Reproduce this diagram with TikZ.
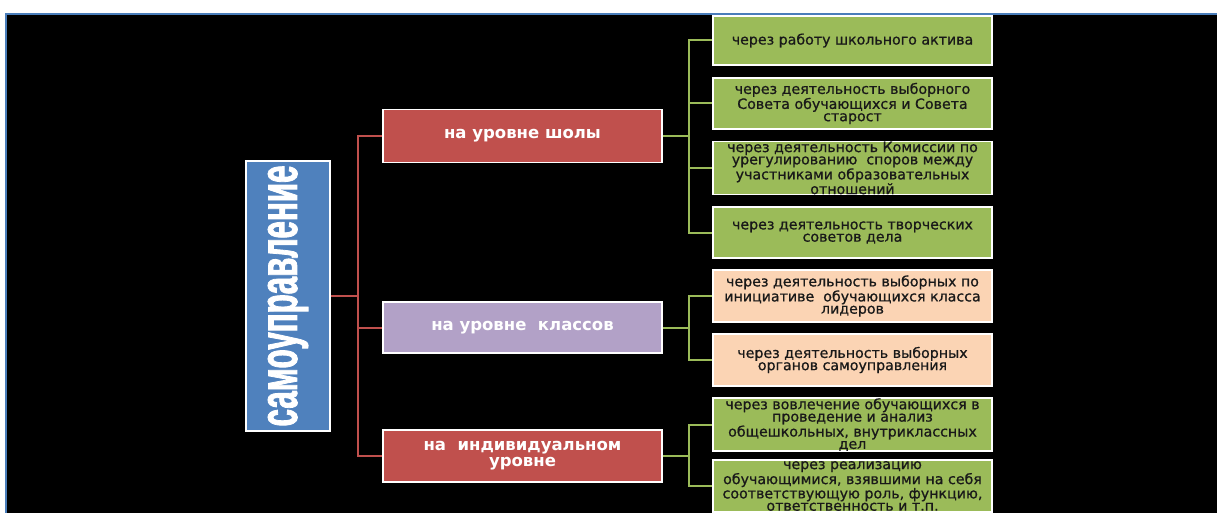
\documentclass[tikz,border=0pt]{standalone}
\usepackage{fontspec}
\setmainfont{DejaVu Sans}
\newfontfamily\vertfont[FakeStretch=0.58, FakeBold=1.5]{Liberation Sans}
\newfontfamily\wayfont[FakeBold=0.8]{DejaVu Sans}
\usetikzlibrary{positioning}

\definecolor{headblue}{HTML}{4F81BD}
\definecolor{lvlred}{HTML}{C0504D}
\definecolor{lvllilac}{HTML}{B2A1C7}
\definecolor{wayolive}{HTML}{9BBB59}
\definecolor{waypeach}{HTML}{FBD4B4}
\definecolor{frameblue}{HTML}{4A7EBB}

\tikzset{
  headbox/.style={draw=white, line width=1.5pt, fill=headblue, text=white,
    rotate=90, minimum width=270pt, minimum height=84pt, inner sep=0pt},
  lvlbox/.style={draw=white, line width=1.5pt, text=white, align=center,
    minimum width=279pt, inner sep=0pt,
    font=\bfseries\fontsize{16.5}{16}\selectfont},
  waybox/.style={draw=white, line width=1.5pt, text=black!90, align=center,
    minimum width=279pt, inner sep=0pt,
    font=\wayfont\fontsize{14.2}{12.3}\selectfont},
  redline/.style={draw=lvlred, line width=2pt},
  oliveline/.style={draw=wayolive, line width=2pt},
}

\begin{document}
\begin{tikzpicture}[x=1pt, y=-1pt]

	\useasboundingbox (0,0) rectangle (1217,513);
	\fill[white] (0,0) rectangle (1217,513);
	\fill[black] (6,14) rectangle (1217,513);
	\draw[frameblue, line width=1.5pt] (6,513) -- (6,14) -- (1217,14);

	\node[headbox] (self) at (288,296) {\vertfont\bfseries\fontsize{54}{54}\selectfont самоуправление};

	\node[lvlbox, fill=lvlred, minimum height=53pt] (school) at (522.5,136) {на уровне шолы};
	\node[lvlbox, fill=lvllilac, minimum height=51pt] (class) at (522.5,327.5) {на уровне~ классов};
	\node[lvlbox, fill=lvlred, minimum height=52pt] (indiv) at (522.5,456) {на~ индивидуальном\\уровне};

	\node[waybox, fill=wayolive, minimum height=49pt] (w1) at (852.5,40.5) {через работу школьного актива};
	\node[waybox, fill=wayolive, minimum height=51pt] (w2) at (852.5,103.5) {через деятельность выборного\\Совета обучающихся и Совета\\старост};
	\node[waybox, fill=wayolive, minimum height=50pt] (w3) at (852.5,168) {через деятельность Комиссии по\\урегулированию~ споров между\\участниками образовательных\\отношений};
	\node[waybox, fill=wayolive, minimum height=51pt] (w4) at (852.5,232.5) {через деятельность творческих\\советов дела};
	\node[waybox, fill=waypeach, minimum height=52pt] (w5) at (852.5,296) {через деятельность выборных по\\инициативе~ обучающихся класса\\лидеров};
	\node[waybox, fill=waypeach, minimum height=52pt] (w6) at (852.5,360) {через деятельность выборных\\органов самоуправления};
	\node[waybox, fill=wayolive, minimum height=53pt] (w7) at (852.5,424.5) {через вовлечение обучающихся в\\проведение и анализ\\общешкольных, внутриклассных\\дел};
	\node[waybox, fill=wayolive, minimum height=52pt] (w8) at (852.5,486) {через реализацию\\обучающимися, взявшими на себя\\соответствующую роль, функцию,\\ответственность и т.п.};

	% level links
	\draw[redline] (self.south) -- ++(27,0) |- (school.west);
	\draw[redline] (self.south) ++(27,0) |- (class.west);
	\draw[redline] (self.south) ++(27,0) |- (indiv.west);

	% ways of each level
	\draw[oliveline] (school.east) -- ++(26,0) |- (w1.west);
	\draw[oliveline] (school.east) ++(26,0) |- (w2.west);
	\draw[oliveline] (school.east) ++(26,0) |- (w3.west);
	\draw[oliveline] (school.east) ++(26,0) |- (w4.west);
	\draw[oliveline] (class.east) -- ++(26,0) |- (w5.west);
	\draw[oliveline] (class.east) ++(26,0) |- (w6.west);
	\draw[oliveline] (indiv.east) -- ++(26,0) |- (w7.west);
	\draw[oliveline] (indiv.east) ++(26,0) |- (w8.west);

\end{tikzpicture}
\end{document}
